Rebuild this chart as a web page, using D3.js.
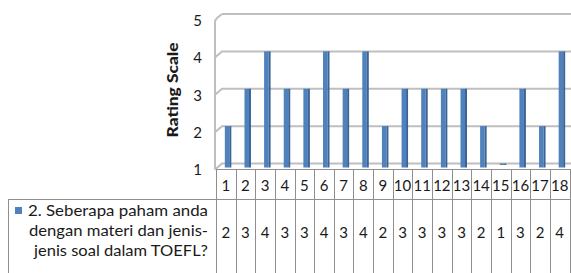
<!DOCTYPE html>
<html>
  <head>
    <meta charset="utf-8" />
    <title>Rating Scale</title>
    <script src="https://cdn.jsdelivr.net/npm/d3@7"></script>
    <style type="text/css">
      html, body {
        margin: 0;
        padding: 0;
        background: #fff;
      }
      svg text {
        font-family: Lato, "Open Sans", "Liberation Sans", sans-serif;
        fill: #1a1a1a;
      }
      .grid {
        stroke: #bfbfbf;
        stroke-width: 2;
        fill: none;
      }
      .tbl {
        stroke: #8f8f8f;
        stroke-width: 1;
        shape-rendering: crispEdges;
      }
    </style>
  </head>
  <body>
    <svg id="chart" width="571" height="273"></svg>

    <script type="text/javascript">

    var categories = d3.range(1, 19).map(String),
        values = [2, 3, 4, 3, 3, 4, 3, 4, 2, 3, 3, 3, 3, 2, 1, 3, 2, 4],
        seriesName = ['2. Seberapa paham anda', 'dengan materi dan jenis-', 'jenis soal dalam TOEFL?'],
        yTicks = [1, 2, 3, 4, 5];

    var svg = d3.select('#chart');

    // 3d depth: back wall sits up/right of the front edge
    var dx = 7, dy = -6;
    var left = 215, right = 571,
        floorFront = 169.5, tableRow = 199.5;

    var x = d3.scaleBand().domain(categories).range([216, 569.5]);
    var y = d3.scaleLinear().domain([1, 5]).range([floorFront + dy, 14]);

    // walls
    var walls = svg.append('g');
    walls.append('path')
      .attr('class', 'grid')
      .attr('d', 'M' + left + ',' + floorFront + 'V' + (y(5) - dy + 2) +
                 'Q' + left + ',' + (y(5) - dy) + ' ' + (left + 2) + ',' + (y(5) - dy - 2) +
                 'L' + (left + dx) + ',' + y(5));

    walls.selectAll('.gl')
      .data(yTicks)
      .enter()
      .append('path')
      .attr('class', 'grid gl')
      .attr('d', function(d) {
        var yy = y(d);
        return (d == 5 ? 'M' + (left + dx) : 'M' + left + ',' + (yy - dy) + 'L' + (left + dx)) + ',' + yy + 'H' + right;
      });

    // y axis labels at the front edge
    svg.append('g')
      .attr('transform', 'translate(202,' + (-dy) + ')')
      .call(d3.axisLeft(y).tickValues(yTicks).tickSize(0).tickPadding(0).tickFormat(d3.format('d')))
      .call(function(g) { g.select('.domain').remove(); })
      .selectAll('text')
      .style('font-size', '15px')
      .style('font-family', 'Lato, sans-serif')
      .attr('dy', '0.35em');

    svg.append('text')
      .attr('transform', 'translate(178,90) rotate(-90)')
      .attr('text-anchor', 'middle')
      .attr('textLength', 95)
      .attr('lengthAdjust', 'spacingAndGlyphs')
      .style('font-size', '15px')
      .style('font-weight', '900')
      .text('Rating Scale');

    // bars
    var bars = svg.append('g').selectAll('g')
      .data(values)
      .enter()
      .append('g')
      .attr('transform', function(d, i) {
        return 'translate(' + (x(categories[i]) + x.bandwidth() / 2 - 1) + ',0)';
      });

    var barBottom = floorFront - 2;

    function barTop(d) { return d == 1 ? y(1) : y(d); }
    function barH(d) { return d == 1 ? 1.5 : barBottom - y(d); }

    bars.append('rect')
      .attr('x', 0)
      .attr('width', 4.5)
      .attr('y', barTop)
      .attr('height', barH)
      .attr('fill', '#4f81bd');

    bars.append('rect')
      .attr('x', 4.5)
      .attr('width', 2)
      .attr('y', barTop)
      .attr('height', barH)
      .attr('fill', '#3a6496');

    // data table
    var table = svg.append('g');

    table.append('line').attr('class', 'tbl')
      .attr('x1', 216).attr('x2', right).attr('y1', floorFront).attr('y2', floorFront);
    table.append('line').attr('class', 'tbl')
      .attr('x1', 8).attr('x2', right).attr('y1', tableRow).attr('y2', tableRow);
    table.append('line').attr('class', 'tbl')
      .attr('x1', 8.5).attr('x2', 8.5).attr('y1', tableRow).attr('y2', 273);

    table.selectAll('.vdiv')
      .data(categories.concat(['end']))
      .enter()
      .append('line')
      .attr('class', 'tbl vdiv')
      .attr('x1', function(d, i) { return Math.round(216 + i * x.step()) + 0.5; })
      .attr('x2', function(d, i) { return Math.round(216 + i * x.step()) + 0.5; })
      .attr('y1', floorFront)
      .attr('y2', 273);

    table.selectAll('.cat')
      .data(categories)
      .enter()
      .append('text')
      .attr('class', 'cat')
      .attr('x', function(d) { return x(d) + x.bandwidth() / 2; })
      .attr('y', 191)
      .attr('text-anchor', 'middle')
      .style('font-size', '15px')
      .text(function(d) { return d; });

    table.selectAll('.val')
      .data(values)
      .enter()
      .append('text')
      .attr('class', 'val')
      .attr('x', function(d, i) { return x(categories[i]) + x.bandwidth() / 2; })
      .attr('y', 238)
      .attr('text-anchor', 'middle')
      .style('font-size', '15px')
      .text(function(d) { return d; });

    // legend cell
    table.append('rect')
      .attr('x', 15).attr('y', 207)
      .attr('width', 7).attr('height', 7)
      .attr('fill', '#4f81bd');

    var lineW = [180, 179, 174];
    table.selectAll('.leg')
      .data(seriesName)
      .enter()
      .append('text')
      .attr('class', 'leg')
      .attr('x', 208)
      .attr('y', function(d, i) { return 216 + i * 20; })
      .attr('text-anchor', 'end')
      .attr('textLength', function(d, i) { return lineW[i]; })
      .attr('lengthAdjust', 'spacingAndGlyphs')
      .style('font-size', '15px')
      .text(function(d) { return d; });

    </script>
  </body>
</html>
